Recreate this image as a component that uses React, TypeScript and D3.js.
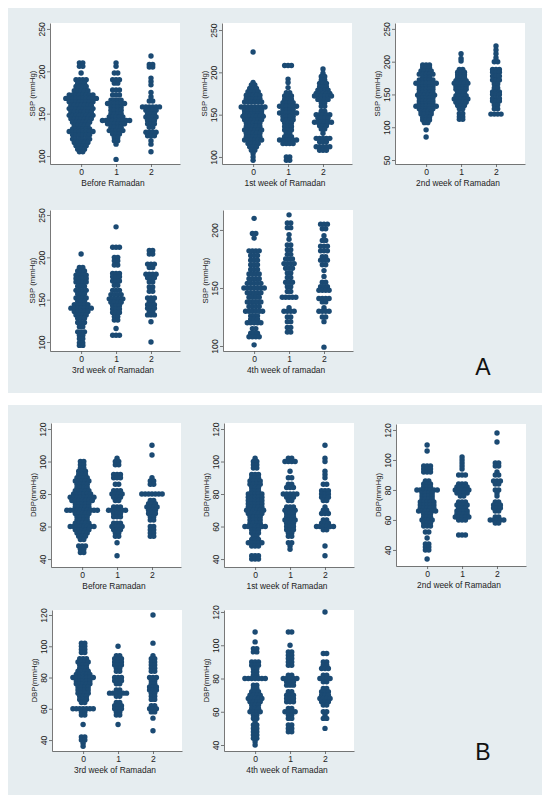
import React, { useEffect, useRef } from 'react';
import * as d3 from 'd3';

// each bin is [value, number of dots in that row]
type Bin = [number, number];

const groupTicks = [0, 1, 2];
const sbpTicks = [100, 150, 200, 250];
const sbpTicksWide = [50, 100, 150, 200, 250];
const sbpTicksShort = [100, 150, 200];
const dbpTicks = [40, 60, 80, 100, 120];

const weekTitles = ['Before Ramadan', '1st week of Ramadan', '2nd week of Ramadan', '3rd week of Ramadan'];

// SBP, before Ramadan
const sbpBefore0: Bin[] = [[210,2],[206,2],[198,1],[190,4],[186,3],[182,4],[177,5],[172,8],[168,10],[164,8],[160,7],[156,8],[152,7],[148,8],[144,7],[140,6],[136,5],[132,6],[129,8],[125,6],[120,6],[116,5],[112,4],[108,3],[105,2]];
const sbpBefore1: Bin[] = [[210,1],[206,1],[198,2],[190,3],[186,2],[178,3],[172,3],[166,4],[162,6],[158,4],[154,4],[150,4],[146,5],[142,9],[138,6],[134,4],[130,5],[126,3],[122,2],[118,2],[114,1],[96,1]];
const sbpBefore2: Bin[] = [[218,1],[208,2],[205,2],[192,1],[188,1],[184,1],[175,1],[170,1],[165,2],[158,6],[154,4],[150,3],[146,4],[142,3],[138,3],[134,2],[128,4],[124,3],[118,1],[114,1],[105,1]];

// SBP, 1st week
const sbpWeek1_0: Bin[] = [[224,1],[188,1],[185,2],[181,3],[177,4],[173,5],[169,5],[165,6],[159,8],[155,6],[151,6],[148,7],[144,6],[140,5],[136,5],[132,6],[128,5],[124,5],[120,6],[116,4],[112,3],[108,2],[104,1],[100,1],[96,1]];
const sbpWeek1_1: Bin[] = [[208,3],[192,1],[188,1],[182,1],[176,2],[172,3],[168,3],[164,4],[160,6],[156,4],[152,6],[148,4],[144,4],[140,3],[136,3],[132,3],[128,2],[124,3],[120,6],[116,4],[100,2],[96,2]];
const sbpWeek1_2: Bin[] = [[204,1],[199,1],[195,2],[191,2],[187,3],[183,3],[179,4],[175,5],[172,6],[168,4],[164,2],[160,2],[154,2],[150,5],[146,4],[141,6],[137,3],[133,2],[128,1],[122,5],[118,3],[112,5],[108,3]];

// SBP, 2nd week
const sbpWeek2_0: Bin[] = [[195,3],[191,3],[186,4],[181,5],[176,3],[172,5],[167,7],[162,5],[158,5],[153,5],[149,6],[145,5],[140,5],[136,5],[132,7],[128,5],[124,4],[120,4],[115,3],[111,3],[107,2],[96,1],[85,1]];
const sbpWeek2_1: Bin[] = [[212,1],[205,1],[201,1],[188,2],[184,3],[180,3],[176,3],[171,4],[167,5],[162,4],[158,4],[153,3],[148,4],[143,5],[138,4],[133,3],[128,2],[121,2],[116,2],[112,2]];
const sbpWeek2_2: Bin[] = [[224,1],[218,1],[212,1],[206,1],[200,2],[188,3],[184,3],[178,3],[172,3],[166,2],[160,2],[154,3],[150,3],[144,3],[140,3],[134,2],[128,2],[120,4]];

// SBP, 3rd week
const sbpWeek3_0: Bin[] = [[204,1],[188,2],[184,3],[179,4],[175,4],[171,4],[166,3],[161,4],[157,3],[152,4],[148,3],[144,5],[140,7],[136,5],[132,4],[128,3],[123,3],[118,2],[112,3],[108,2],[104,2],[99,2],[96,2]];
const sbpWeek3_1: Bin[] = [[236,1],[212,3],[200,2],[196,2],[191,2],[181,3],[177,3],[172,3],[167,2],[161,3],[156,4],[151,5],[147,4],[143,3],[139,3],[135,3],[130,2],[126,2],[116,1],[108,3]];
const sbpWeek3_2: Bin[] = [[208,2],[204,2],[192,3],[188,2],[180,4],[176,3],[171,2],[165,2],[160,2],[152,3],[148,2],[144,3],[140,3],[136,2],[132,3],[124,1],[100,1]];

// SBP, 4th week
const sbpWeek4_0: Bin[] = [[210,1],[197,2],[193,1],[182,4],[178,3],[174,3],[170,3],[166,3],[162,4],[158,4],[154,5],[150,7],[146,5],[142,4],[138,5],[134,4],[130,6],[126,3],[123,3],[120,5],[115,2],[111,3],[108,4],[101,1]];
const sbpWeek4_1: Bin[] = [[213,1],[206,2],[202,2],[196,1],[192,1],[187,2],[183,2],[179,2],[175,3],[171,4],[167,3],[163,2],[159,2],[155,3],[151,2],[147,2],[142,5],[133,1],[130,4],[125,2],[121,2],[116,2],[112,2]];
const sbpWeek4_2: Bin[] = [[205,3],[201,2],[195,1],[191,2],[186,3],[182,3],[177,2],[174,3],[170,2],[165,1],[160,1],[155,2],[151,3],[148,4],[141,4],[138,2],[133,1],[130,4],[125,2],[121,1],[99,1]];

// DBP, before Ramadan
const dbpBefore0: Bin[] = [[100,2],[98,2],[96,2],[94,3],[92,3],[90,4],[88,5],[86,4],[84,4],[82,5],[80,6],[78,8],[76,7],[74,5],[72,5],[70,10],[68,5],[66,4],[64,4],[62,5],[60,8],[58,5],[56,4],[54,3],[52,2],[48,3],[46,2],[44,2]];
const dbpBefore1: Bin[] = [[102,1],[100,2],[98,2],[92,3],[90,3],[86,2],[82,3],[80,4],[78,3],[76,2],[72,3],[70,6],[68,3],[66,3],[62,3],[60,4],[58,3],[56,2],[54,2],[50,1],[42,1]];
const dbpBefore2: Bin[] = [[110,1],[104,1],[90,1],[88,2],[86,2],[80,7],[76,2],[74,3],[72,4],[70,3],[68,3],[66,2],[64,2],[60,2],[58,2],[56,2],[54,2]];

// DBP, 1st week
const dbpWeek1_0: Bin[] = [[102,1],[100,2],[98,2],[96,2],[92,3],[90,3],[88,4],[86,4],[84,3],[82,3],[80,5],[78,5],[76,5],[74,5],[72,5],[70,6],[68,5],[66,4],[64,4],[62,4],[60,7],[58,3],[56,3],[54,2],[52,3],[50,5],[48,3],[42,3],[40,3]];
const dbpWeek1_1: Bin[] = [[102,2],[100,4],[94,1],[90,2],[86,2],[84,3],[80,5],[78,3],[76,2],[72,3],[70,4],[68,3],[66,3],[64,4],[62,3],[60,3],[58,3],[56,2],[54,2],[50,2],[48,1],[46,1]];
const dbpWeek1_2: Bin[] = [[110,1],[102,1],[100,1],[94,1],[92,1],[90,1],[86,2],[82,3],[80,3],[78,3],[76,2],[72,1],[70,2],[68,3],[64,2],[62,3],[60,6],[58,2],[48,1],[42,1]];

// DBP, 2nd week
const dbpWeek2_0: Bin[] = [[110,1],[106,1],[96,3],[94,3],[92,3],[86,2],[84,3],[82,3],[80,7],[78,4],[76,4],[74,4],[72,5],[70,5],[68,5],[66,6],[64,3],[62,3],[60,4],[58,3],[56,3],[52,2],[48,1],[44,2],[42,2],[40,2],[34,1]];
const dbpWeek2_1: Bin[] = [[102,1],[100,1],[98,1],[96,1],[94,1],[90,3],[84,3],[82,4],[80,5],[78,4],[76,2],[72,3],[70,4],[68,3],[66,4],[64,4],[62,5],[60,3],[50,3]];
const dbpWeek2_2: Bin[] = [[118,1],[112,1],[98,2],[96,2],[92,1],[90,2],[86,3],[84,2],[80,2],[78,1],[76,1],[72,2],[70,3],[68,3],[66,2],[62,2],[60,5],[58,2]];

// DBP, 3rd week
const dbpWeek3_0: Bin[] = [[102,2],[100,2],[98,2],[96,2],[92,3],[90,4],[88,3],[86,3],[84,4],[82,5],[80,7],[78,5],[76,5],[74,4],[72,4],[70,4],[68,3],[66,3],[64,2],[60,7],[58,2],[56,2],[50,1],[42,2],[40,2],[38,1],[36,1]];
const dbpWeek3_1: Bin[] = [[100,1],[94,2],[92,3],[90,3],[88,3],[86,2],[84,2],[80,3],[78,3],[76,2],[72,2],[70,6],[68,2],[64,2],[62,3],[60,3],[58,2],[56,2],[50,1]];
const dbpWeek3_2: Bin[] = [[120,1],[102,1],[94,1],[92,2],[90,2],[88,2],[86,2],[84,2],[80,3],[78,2],[76,2],[74,3],[72,3],[70,2],[68,2],[66,2],[62,2],[60,3],[58,2],[54,1],[46,1]];

// DBP, 4th week
const dbpWeek4_0: Bin[] = [[108,1],[102,1],[98,2],[96,2],[90,3],[88,3],[86,2],[84,2],[82,2],[80,7],[76,2],[74,2],[72,3],[70,4],[68,5],[66,4],[64,3],[62,3],[60,4],[58,2],[56,2],[54,1],[52,2],[50,2],[48,2],[46,2],[44,2],[42,1],[40,1]];
const dbpWeek4_1: Bin[] = [[108,2],[100,1],[96,2],[94,2],[92,2],[90,2],[88,2],[82,2],[80,5],[78,3],[76,3],[72,2],[70,3],[68,3],[66,3],[62,2],[60,4],[58,2],[56,2],[52,2],[50,2],[48,2]];
const dbpWeek4_2: Bin[] = [[120,1],[95,2],[90,2],[88,2],[86,3],[82,2],[80,4],[78,2],[74,2],[72,3],[70,3],[68,4],[66,3],[64,2],[60,2],[58,1],[56,2],[50,1]];

interface Panel {
  title: string;
  yLabel: string;
  ticks: number[];
  groups: Bin[][];
  left: number;
  top: number;
  bottom: number;
  yDomain: [number, number];
}

const SBP = 'SBP (mmHg)';
const DBP = 'DBP(mmHg)';

const panels: Panel[] = [
  { title: weekTitles[0], yLabel: SBP, ticks: sbpTicks, groups: [sbpBefore0, sbpBefore1, sbpBefore2], left: 50, top: 23, bottom: 164, yDomain: [90.6, 257] },
  { title: weekTitles[1], yLabel: SBP, ticks: sbpTicks, groups: [sbpWeek1_0, sbpWeek1_1, sbpWeek1_2], left: 222, top: 23, bottom: 164, yDomain: [91.7, 258.3] },
  { title: weekTitles[2], yLabel: SBP, ticks: sbpTicksWide, groups: [sbpWeek2_0, sbpWeek2_1, sbpWeek2_2], left: 395, top: 23, bottom: 164, yDomain: [43.9, 259] },
  { title: weekTitles[3], yLabel: SBP, ticks: sbpTicks, groups: [sbpWeek3_0, sbpWeek3_1, sbpWeek3_2], left: 50, top: 210, bottom: 351, yDomain: [89.4, 255.9] },
  { title: '4th week of ramadan', yLabel: SBP, ticks: sbpTicksShort, groups: [sbpWeek4_0, sbpWeek4_1, sbpWeek4_2], left: 223, top: 210, bottom: 351, yDomain: [95.7, 217.2] },
  { title: weekTitles[0], yLabel: DBP, ticks: dbpTicks, groups: [dbpBefore0, dbpBefore1, dbpBefore2], left: 51, top: 423, bottom: 567, yDomain: [35.1, 123.7] },
  { title: weekTitles[1], yLabel: DBP, ticks: dbpTicks, groups: [dbpWeek1_0, dbpWeek1_1, dbpWeek1_2], left: 224, top: 423, bottom: 567, yDomain: [35.1, 123.7] },
  { title: weekTitles[2], yLabel: DBP, ticks: dbpTicks, groups: [dbpWeek2_0, dbpWeek2_1, dbpWeek2_2], left: 396, top: 424, bottom: 566, yDomain: [29.3, 124] },
  { title: weekTitles[3], yLabel: DBP, ticks: dbpTicks, groups: [dbpWeek3_0, dbpWeek3_1, dbpWeek3_2], left: 52, top: 610, bottom: 751, yDomain: [33, 123.2] },
  { title: '4th week of Ramadan', yLabel: DBP, ticks: dbpTicks, groups: [dbpWeek4_0, dbpWeek4_1, dbpWeek4_2], left: 224, top: 610, bottom: 751, yDomain: [36.4, 121.2] },
];

const PLOT_W = 130;
const DOT_R = 2.7;
const DOT_DX = 3.4;
const BG = '#e6edf0';
const NAVY = '#1b4a73';
const FONT = '"Liberation Sans", Arial, sans-serif';

const App: React.FC = () => {
  const svgRef = useRef<SVGSVGElement>(null);

  useEffect(() => {
    if (!svgRef.current) return;
    const svg = d3.select(svgRef.current);
    svg.selectAll('*').remove();

    // graph regions of the two combined figures
    svg.append('rect').attr('x', 8).attr('y', 8).attr('width', 534).attr('height', 385).attr('fill', BG);
    svg.append('rect').attr('x', 8).attr('y', 405).attr('width', 534).attr('height', 390).attr('fill', BG);

    panels.forEach((p) => {
      const g = svg.append('g');
      const x = d3.scaleLinear().domain([-0.89, 2.83]).range([p.left, p.left + PLOT_W]);
      const y = d3.scaleLinear().domain(p.yDomain).range([p.bottom, p.top]);

      // white plot region
      g.append('rect')
        .attr('x', p.left).attr('y', p.top)
        .attr('width', PLOT_W).attr('height', p.bottom - p.top)
        .attr('fill', '#fff');

      // dots, centred on each group and stacked sideways per bin
      p.groups.forEach((bins, gi) => {
        bins.forEach(([v, n]) => {
          for (let i = 0; i < n; i++) {
            g.append('circle')
              .attr('cx', x(gi) + (i - (n - 1) / 2) * DOT_DX)
              .attr('cy', y(v))
              .attr('r', DOT_R)
              .attr('fill', NAVY);
          }
        });
      });

      // y axis with rotated labels
      const yAxis = g.append('g')
        .attr('transform', `translate(${p.left},0)`)
        .call(d3.axisLeft(y).tickValues(p.ticks).tickSize(3).tickSizeOuter(0));
      yAxis.selectAll('text')
        .attr('x', 0).attr('y', -8.5).attr('dy', null)
        .attr('text-anchor', 'middle')
        .attr('dominant-baseline', 'central')
        .attr('transform', 'rotate(-90)');

      // x axis
      g.append('g')
        .attr('transform', `translate(0,${p.bottom})`)
        .call(d3.axisBottom(x).tickValues(groupTicks).tickFormat((d) => String(d)).tickSize(3).tickSizeOuter(0).tickPadding(2));

      g.selectAll('.domain, .tick line').attr('stroke', '#555').attr('stroke-width', 0.8);
      g.selectAll('.tick text').attr('fill', '#222').attr('font-size', 8.6).attr('font-family', FONT);

      g.append('text')
        .attr('x', p.left + PLOT_W / 2 - 2)
        .attr('y', p.bottom + 19)
        .attr('text-anchor', 'middle')
        .attr('dominant-baseline', 'central')
        .attr('font-size', 8.4)
        .attr('font-family', FONT)
        .attr('fill', '#222')
        .text(p.title);

      g.append('text')
        .attr('transform', `translate(${p.left - 18},${(p.top + p.bottom) / 2}) rotate(-90)`)
        .attr('text-anchor', 'middle')
        .attr('dominant-baseline', 'central')
        .attr('font-size', 7.8)
        .attr('font-family', FONT)
        .attr('fill', '#222')
        .text(p.yLabel);
    });

    svg.append('text').attr('x', 483).attr('y', 367).attr('text-anchor', 'middle').attr('dominant-baseline', 'central')
      .attr('font-size', 23).attr('font-family', FONT).attr('fill', '#111').text('A');
    svg.append('text').attr('x', 483).attr('y', 752).attr('text-anchor', 'middle').attr('dominant-baseline', 'central')
      .attr('font-size', 23).attr('font-family', FONT).attr('fill', '#111').text('B');
  }, []);

  return (
    <svg
      ref={svgRef}
      width={550}
      height={804}
      style={{ position: 'absolute', left: 0, top: 0, background: '#fff' }}
    />
  );
};

export default App;
